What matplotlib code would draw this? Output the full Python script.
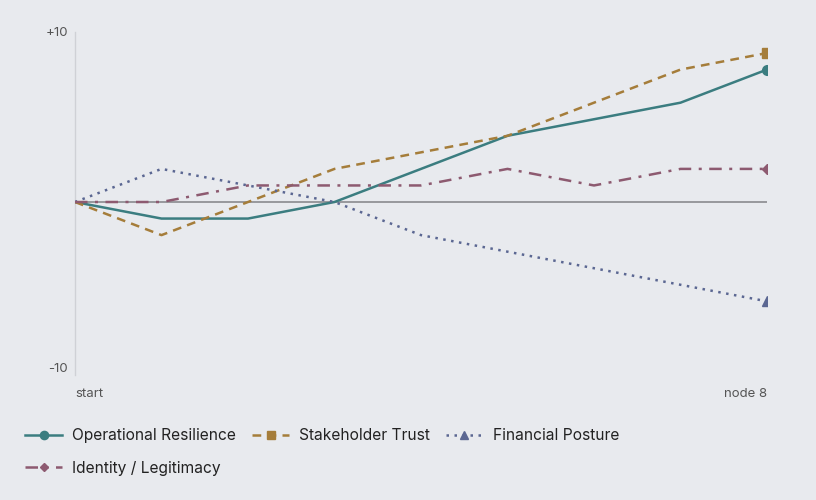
import matplotlib
matplotlib.use("Agg")
import matplotlib.pyplot as plt
from matplotlib.lines import Line2D
import matplotlib.transforms as mtransforms

plt.rcParams['font.family'] = ['Inter', 'DejaVu Sans']

nodes = list(range(9))
x_labels = ["start", "node 8"]
operational = [0, -1, -1, 0, 2, 4, 5, 6, 8]
stakeholder = [0, -2, 0, 2, 3, 4, 6, 8, 9]
financial = [0, 2, 1, 0, -2, -3, -4, -5, -6]
identity = [0, 0, 1, 1, 1, 2, 1, 2, 2]

series = [
    ("Operational Resilience", operational, "#3b7d80", "-", "o", 7),
    ("Stakeholder Trust", stakeholder, "#a57d3a", (0, (3.5, 2.5)), "s", 6.5),
    ("Financial Posture", financial, "#5b6792", (0, (1, 2.2)), "^", 7),
    ("Identity / Legitimacy", identity, "#8d5a70", (0, (5, 3, 1.2, 3)), "D", 5),
]

bg = "#e8eaee"
fig = plt.figure(figsize=(8.16, 5.0), dpi=100, facecolor=bg)
ax = fig.add_axes([75/816, (500-375)/500, 692/816, 343/500], facecolor=bg)

ax.axhline(0, color="#8a8a8e", lw=1.2, zorder=1)
handles = []
for name, vals, col, ls, mk, ms in series:
    ax.plot(nodes, vals, color=col, lw=1.8, ls=ls, zorder=3)
    ax.plot([nodes[-1]], [vals[-1]], color=col, marker=mk, ms=ms, ls="none", zorder=4)
    handles.append(Line2D([0], [0], color=col, lw=1.8, ls=ls, marker=mk, ms=ms*0.85,
                          label=name))

ax.set_xlim(0, 8)
ax.set_ylim(-10.45, 10.27)
for s in ["top", "right", "bottom"]:
    ax.spines[s].set_visible(False)
ax.spines["left"].set_color("#cfd1d6")
ax.spines["left"].set_linewidth(1)

ax.set_yticks([-10, 10])
ax.set_yticklabels(["-10", "+10"])
ax.tick_params(axis="y", length=0, pad=5, labelsize=9.5, labelcolor="#555555")
lbls = ax.get_yticklabels()
lbls[1].set_transform(lbls[1].get_transform() + mtransforms.ScaledTranslation(0, 5/100, fig.dpi_scale_trans))

ax.set_xticks([0, 8])
ax.set_xticklabels(x_labels)
ax.tick_params(axis="x", length=0, pad=9.5, labelsize=9.5, labelcolor="#555555")
xl = ax.get_xticklabels()
xl[0].set_ha("left")
xl[1].set_ha("right")

# column-major fill -> reorder so rows read 0,1,2 / 3
order = [0, 3, 1, 2]
fig.legend(handles=[handles[i] for i in order], loc="upper left",
           bbox_to_anchor=(11/816, 1 - 414/500),
           ncol=3, frameon=False, fontsize=11.2, handlelength=2.4, handletextpad=0.65,
           columnspacing=1.0, labelspacing=1.15, labelcolor="#222222")

fig.savefig("out.png", dpi=100, facecolor=bg)
